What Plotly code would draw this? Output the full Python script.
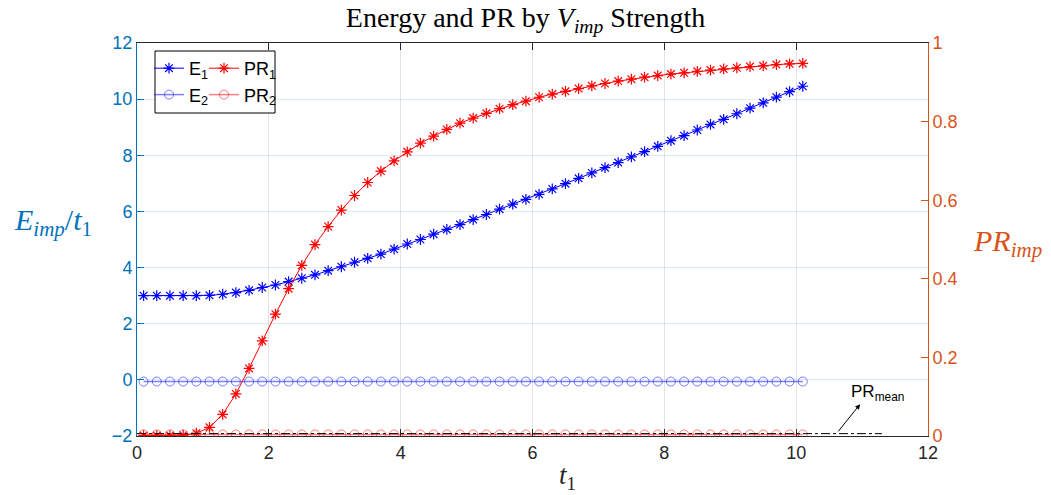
import plotly.graph_objects as go

t1 = [0.1, 0.3, 0.5, 0.7, 0.9, 1.1, 1.3, 1.5, 1.7, 1.9,
      2.1, 2.3, 2.5, 2.7, 2.9, 3.1, 3.3, 3.5, 3.7, 3.9,
      4.1, 4.3, 4.5, 4.7, 4.9, 5.1, 5.3, 5.5, 5.7, 5.9,
      6.1, 6.3, 6.5, 6.7, 6.9, 7.1, 7.3, 7.5, 7.7, 7.9,
      8.1, 8.3, 8.5, 8.7, 8.9, 9.1, 9.3, 9.5, 9.7, 9.9, 10.1]

E1 = [3.00, 3.00, 3.00, 3.00, 3.00, 3.01, 3.05, 3.11, 3.19, 3.29,
      3.38, 3.50, 3.62, 3.74, 3.89, 4.03, 4.19, 4.33, 4.48, 4.66,
      4.84, 5.00, 5.19, 5.36, 5.53, 5.71, 5.89, 6.08, 6.26, 6.43,
      6.61, 6.80, 6.99, 7.18, 7.37, 7.56, 7.74, 7.94, 8.13, 8.32,
      8.52, 8.70, 8.90, 9.10, 9.28, 9.48, 9.68, 9.87, 10.07, 10.27, 10.46]

PR1 = [0.001, 0.001, 0.001, 0.002, 0.007, 0.022, 0.055, 0.107, 0.172, 0.242,
       0.310, 0.375, 0.434, 0.487, 0.533, 0.575, 0.612, 0.645, 0.674, 0.700,
       0.723, 0.745, 0.763, 0.780, 0.796, 0.809, 0.821, 0.833, 0.843, 0.852,
       0.862, 0.870, 0.877, 0.884, 0.891, 0.897, 0.903, 0.908, 0.913, 0.917,
       0.921, 0.924, 0.928, 0.931, 0.934, 0.937, 0.940, 0.942, 0.945, 0.947, 0.948]

E2 = [-0.06, -0.06, -0.06, -0.06, -0.06, -0.06, -0.06, -0.06, -0.06, -0.06,
      -0.06, -0.06, -0.06, -0.06, -0.06, -0.06, -0.06, -0.06, -0.06, -0.06,
      -0.06, -0.06, -0.06, -0.06, -0.06, -0.06, -0.06, -0.06, -0.06, -0.06,
      -0.06, -0.06, -0.06, -0.06, -0.06, -0.06, -0.06, -0.06, -0.06, -0.06,
      -0.06, -0.06, -0.06, -0.06, -0.06, -0.06, -0.06, -0.06, -0.06, -0.06, -0.06]

PR2 = [0.004, 0.004, 0.004, 0.004, 0.004, 0.004, 0.004, 0.004, 0.004, 0.004,
       0.004, 0.004, 0.004, 0.004, 0.004, 0.004, 0.004, 0.004, 0.004, 0.004,
       0.004, 0.004, 0.004, 0.004, 0.004, 0.004, 0.004, 0.004, 0.004, 0.004,
       0.004, 0.004, 0.004, 0.004, 0.004, 0.004, 0.004, 0.004, 0.004, 0.004,
       0.004, 0.004, 0.004, 0.004, 0.004, 0.004, 0.004, 0.004, 0.004, 0.004, 0.004]

PR_mean_x = [0, 11.3]
PR_mean_y = [0.006, 0.006]

x_ticks = [0, 2, 4, 6, 8, 10, 12]
yl_ticks = [-2, 0, 2, 4, 6, 8, 10, 12]
yr_ticks = [0, 0.2, 0.4, 0.6, 0.8, 1]
yr_labels = ["0", "0.2", "0.4", "0.6", "0.8", "1"]

BLUE_AX = "#0072BD"
ORANGE_AX = "#D95319"
DARK = "#262626"
SANS = "Liberation Sans, Arial, sans-serif"
SERIF = "Liberation Serif, Times New Roman, serif"

fig = go.Figure()

fig.add_trace(go.Scatter(
    x=t1, y=E1, name="E<sub>1</sub>", mode="lines+markers",
    line=dict(color="blue", width=1),
    marker=dict(symbol="asterisk-open", size=9, line=dict(color="blue", width=1.2)),
    yaxis="y", legend="legend"))
fig.add_trace(go.Scatter(
    x=t1, y=E2, name="E<sub>2</sub>", mode="lines+markers",
    line=dict(color="rgba(0,0,255,0.5)", width=1.5),
    marker=dict(symbol="circle-open", size=9, color="rgba(0,0,255,0.5)",
                line=dict(color="rgba(0,0,255,0.5)", width=1)),
    yaxis="y", legend="legend"))
fig.add_trace(go.Scatter(
    x=t1, y=PR1, name="PR<sub>1</sub>", mode="lines+markers",
    line=dict(color="red", width=1),
    marker=dict(symbol="asterisk-open", size=9, line=dict(color="red", width=1.2)),
    yaxis="y2", legend="legend2"))
fig.add_trace(go.Scatter(
    x=t1, y=PR2, name="PR<sub>2</sub>", mode="lines+markers",
    line=dict(color="rgba(255,0,0,0.5)", width=1.5),
    marker=dict(symbol="circle-open", size=9, color="rgba(255,0,0,0.5)",
                line=dict(color="rgba(255,0,0,0.5)", width=1)),
    yaxis="y2", legend="legend2"))
fig.add_trace(go.Scatter(
    x=PR_mean_x, y=PR_mean_y, mode="lines", showlegend=False,
    line=dict(color="black", width=1, dash="dashdot"), yaxis="y2"))

L, R, T, B = 137, 123, 43, 59
W, H = 1051, 495
pw = W - L - R
ph = H - T - B


def px(xp):
    return (xp - L) / pw


def py(yp):
    return (H - B - yp) / ph


fig.update_layout(
    width=W, height=H,
    margin=dict(l=L, r=R, t=T, b=B),
    paper_bgcolor="white", plot_bgcolor="white",
    showlegend=True,
    title=dict(text="Energy and PR by <i>V</i><sub><i>imp</i></sub> Strength",
               font=dict(family=SERIF, size=28, color="black"),
               x=0.5, xanchor="center", y=1 - 17 / H, yanchor="middle"),
    xaxis=dict(range=[0, 12], tickvals=x_ticks, ticks="inside", ticklen=7,
               tickcolor=DARK, showline=True, linecolor=DARK, linewidth=1,
               mirror="ticks", showgrid=True, gridcolor="rgba(38,38,38,0.13)",
               zeroline=False, tickfont=dict(family=SANS, size=18, color=DARK)),
    yaxis=dict(range=[-2, 12], tickvals=yl_ticks, ticks="inside", ticklen=7,
               tickcolor=BLUE_AX, showline=True, linecolor=BLUE_AX, linewidth=1,
               showgrid=True, gridcolor="rgba(0,114,189,0.13)", zeroline=False,
               tickfont=dict(family=SANS, size=18, color=BLUE_AX)),
    yaxis2=dict(range=[0, 1], tickvals=yr_ticks, ticktext=yr_labels,
                ticks="inside", ticklen=7, overlaying="y", side="right",
                tickcolor=ORANGE_AX, showline=True, linecolor=ORANGE_AX, linewidth=1,
                showgrid=False, zeroline=False,
                tickfont=dict(family=SANS, size=18, color=ORANGE_AX)),
    legend=dict(x=px(149), y=py(50), xanchor="left", yanchor="top",
                bgcolor="rgba(0,0,0,0)", borderwidth=0,
                font=dict(family=SANS, size=18, color="black"),
                itemwidth=30, tracegroupgap=0),
    legend2=dict(x=px(204), y=py(50), xanchor="left", yanchor="top",
                 bgcolor="rgba(0,0,0,0)", borderwidth=0,
                 font=dict(family=SANS, size=18, color="black"),
                 itemwidth=30, tracegroupgap=0),
    shapes=[dict(type="rect", xref="paper", yref="paper",
                 x0=px(155), x1=px(275), y0=py(113), y1=py(51),
                 line=dict(color="black", width=1), fillcolor="white", layer="above")],
    annotations=[
        dict(text="<i>E</i><sub><i>imp</i></sub>/<i>t</i><sub>1</sub>", xref="paper", yref="paper",
             x=px(53), y=py(222), showarrow=False, xanchor="center", yanchor="middle",
             font=dict(family=SERIF, size=30, color=BLUE_AX)),
        dict(text="<i>PR</i><sub><i>imp</i></sub>", xref="paper", yref="paper",
             x=px(1007), y=py(243), showarrow=False, xanchor="center", yanchor="middle",
             font=dict(family=SERIF, size=30, color=ORANGE_AX)),
        dict(text="<i>t</i><sub>1</sub>", xref="paper", yref="paper",
             x=px(567), y=py(477), showarrow=False, xanchor="center", yanchor="middle",
             font=dict(family=SERIF, size=27, color=DARK)),
        dict(text="PR<sub>mean</sub>", xref="x", yref="y2", x=11.23, y=0.109,
             showarrow=False, xanchor="center", yanchor="middle",
             font=dict(family=SANS, size=17, color="black")),
        dict(text="", xref="x", yref="y2", x=10.97, y=0.081,
             axref="x", ayref="y2", ax=10.62, ay=0.008,
             showarrow=True, arrowhead=2, arrowsize=1, arrowwidth=1, arrowcolor="black"),
    ],
)

fig.write_html("out.html")
